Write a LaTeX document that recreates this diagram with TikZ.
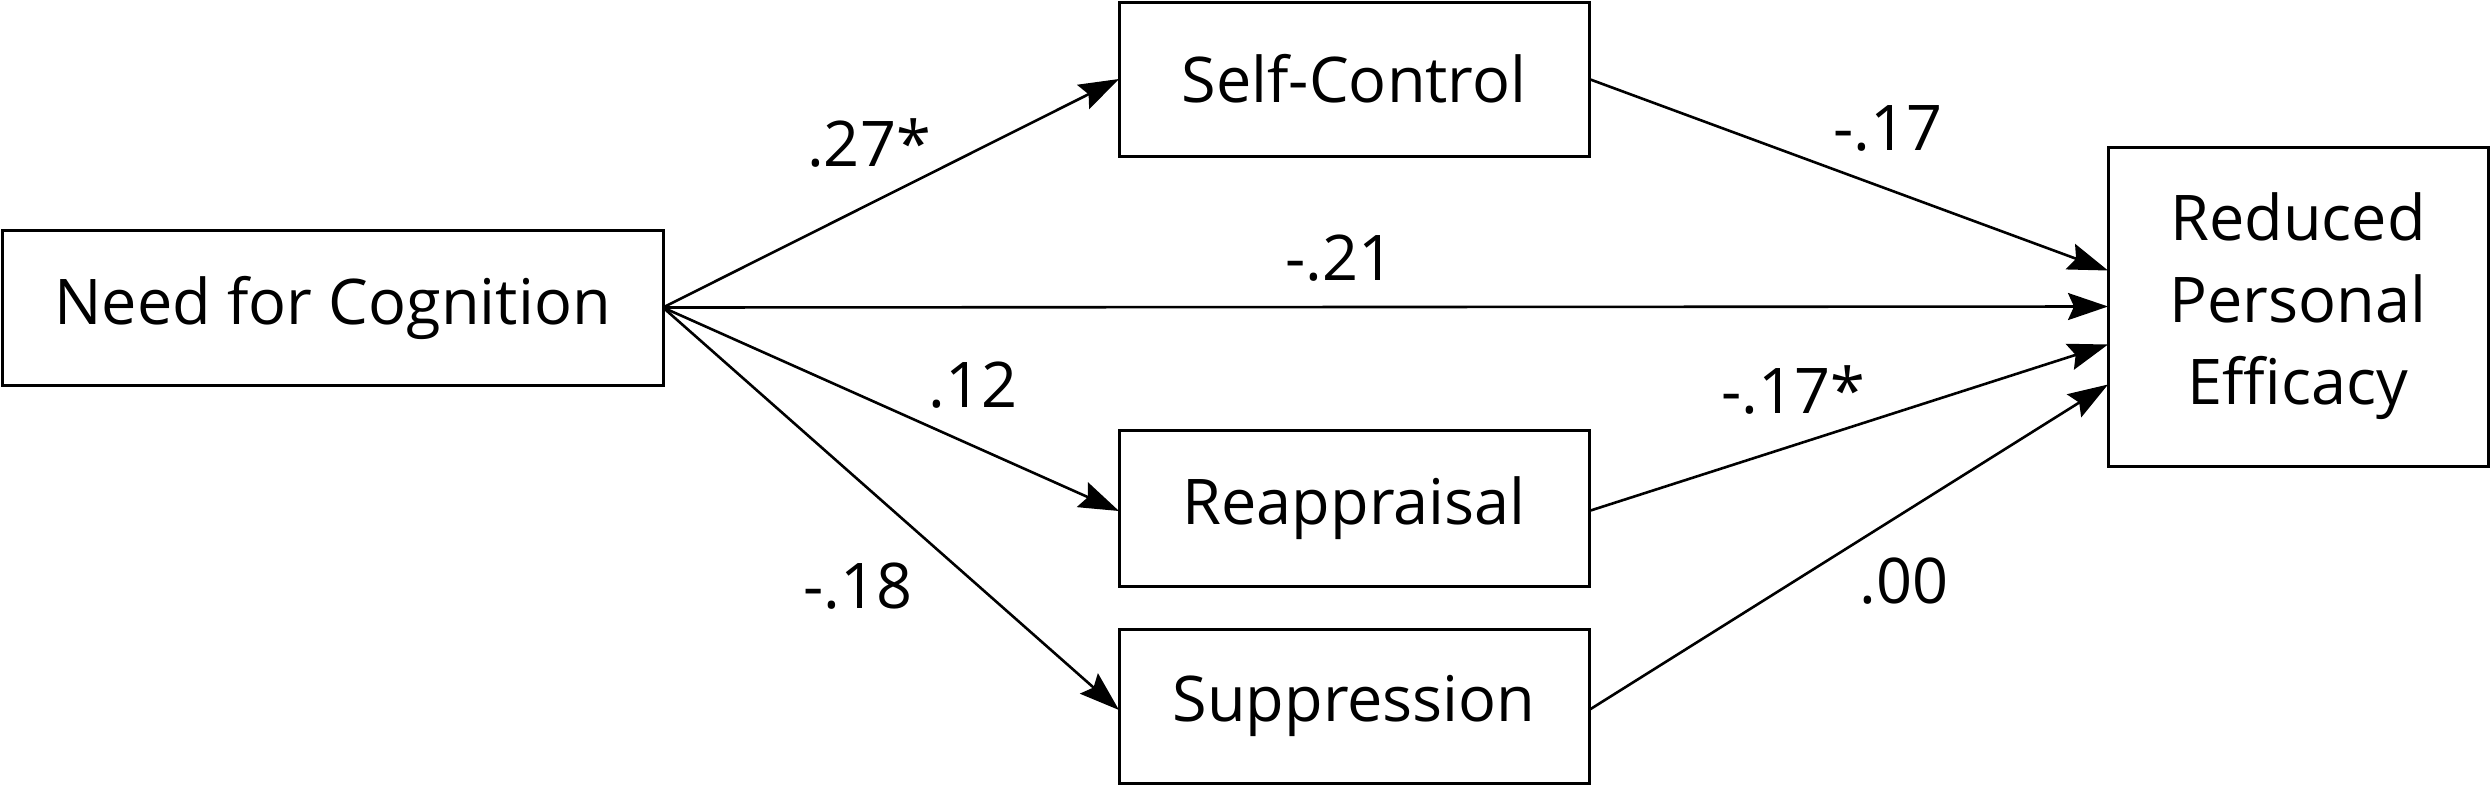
\documentclass[tikz,border=0pt]{standalone}
\usepackage{fontspec}
\setmainfont{Open Sans}
\usetikzlibrary{arrows.meta}
\tikzset{
  box/.style={draw=black, line width=3pt, rectangle, inner sep=0pt, outer sep=0pt,
    font=\fontsize{63}{82}\selectfont, align=center},
  path/.style={draw=black, line width=2.6pt, -{Stealth[length=40pt,width=27pt,inset=6pt]}},
  coef/.style={font=\fontsize{63}{74}\selectfont, inner sep=0pt}
}
\begin{document}
\begin{tikzpicture}[x=1pt,y=-1pt]
\useasboundingbox (0,0) rectangle (2490,785);
\node[box, minimum width=661pt, minimum height=155pt] (nfc) at (332.5,307.5) {Need for Cognition};
\node[box, minimum width=470pt, minimum height=154pt] (sc) at (1354,79) {Self-Control};
\node[box, minimum width=470pt, minimum height=156pt] (re) at (1354,508) {Reappraisal};
\node[box, minimum width=470pt, minimum height=154pt] (su) at (1354,706) {Suppression};
\node[box, minimum width=380pt, minimum height=319pt] (rpe) at (2298,306.5) {Reduced\\Personal\\Efficacy};

\draw[path] (nfc.east) -- (sc.west);
\draw[path] (nfc.east) -- (rpe.west);
\draw[path] (nfc.east) -- ([yshift=-3pt]re.west);
\draw[path] (nfc.east) -- ([yshift=-4pt]su.west);
\draw[path] (sc.east) -- ([yshift=36pt]rpe.west);
\draw[path] ([yshift=-3pt]re.east) -- ([yshift=-38pt]rpe.west);
\draw[path] ([yshift=-4pt]su.east) -- ([yshift=-78pt]rpe.west);

\node[coef] (l1) at (869,143) {.27*};
\node[coef] (l2) at (973,385) {.12};
\node[coef] (l3) at (858,586) {-.18};
\node[coef] (l4) at (1340,258) {-.21};
\node[coef] (l5) at (1888,128) {-.17};
\node[coef] (l6) at (1793,390) {-.17*};
\node[coef] (l7) at (1904,581) {.00};
\end{tikzpicture}
\end{document}
